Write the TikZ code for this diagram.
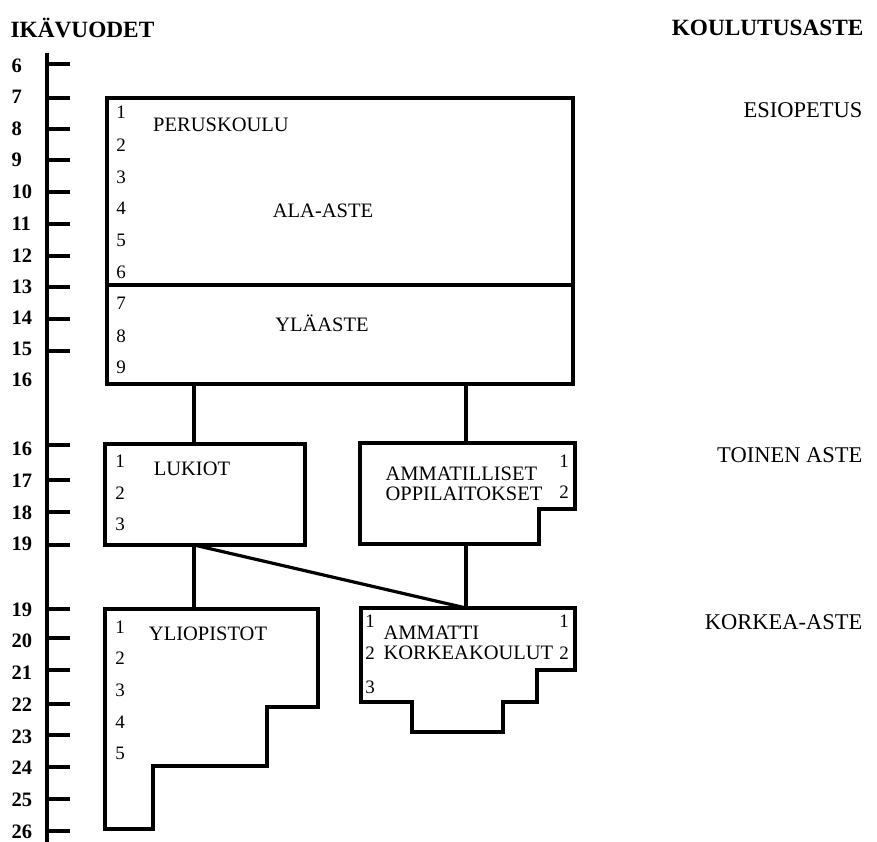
\documentclass[tikz,border=0pt]{standalone}
\usepackage{fontspec}
\setmainfont{Liberation Serif}
\begin{document}
\begin{tikzpicture}[x=1pt,y=-1pt,
  line width=3.2pt, line join=miter,
  outline/.style={draw, line width=3.2pt},
  conn/.style={draw, line width=3.2pt},
  lbl/.style={font=\fontsize{20.5}{21}\selectfont, inner sep=0pt},
  num/.style={font=\fontsize{19}{19}\selectfont, inner sep=0pt},
  age/.style={font=\bfseries\fontsize{20.5}{20.5}\selectfont, inner sep=0pt, anchor=west},
  hdr/.style={font=\bfseries\fontsize{23.3}{23.3}\selectfont, inner sep=0pt},
  lvl/.style={font=\fontsize{22.5}{22.5}\selectfont, inner sep=0pt, anchor=east}]
\useasboundingbox (0,0) rectangle (877,842);

% headers
\node[hdr, anchor=west] (hIka) at (9,28) {IKÄVUODET};
\node[hdr, anchor=east] (hKoul) at (865,28) {KOULUTUSASTE};

% age axis
\coordinate (axTop) at (47,53);
\coordinate (axBot) at (47,842);
\draw[line width=3.6pt] (axTop) -- (axBot);
\foreach \a/\y in {6/64,7/98,8/129,9/160,10/192,11/224,12/256,13/287,14/319,15/351,
                   16/445,17/480,18/512,19/545,19/609,20/638,21/670,22/704,23/735,24/767,25/799,26/831}{
  \draw (47,\y) -- (70,\y);
}
\foreach \a/\y in {6/66,7/97,8/129,9/160,10/192,11/224,12/256,13/287,14/318,15/349,16/380,
                   16/449,17/481,18/513,19/544,19/610,20/641,21/673,22/705,23/737,24/768,25/800,26/832}{
  \node[age] at (10,\y) {\a};
}

% levels
\node[lvl] (lEsi) at (864,110) {ESIOPETUS};
\node[lvl] (lToi) at (864,455) {TOINEN ASTE};
\node[lvl] (lKor) at (864,622) {KORKEA-ASTE};

% Peruskoulu
\draw[outline] (107,98) rectangle (573,384);
\draw[outline] (107,285) -- (573,285);
\coordinate (pkL) at (194,384);
\coordinate (pkR) at (466,384);
\node[lbl] (pk) at (221,125) {PERUSKOULU};
\node[lbl] (ala) at (323,211) {ALA-ASTE};
\node[lbl] (yla) at (322,323) {YLÄASTE};
\foreach \n/\y in {1/112,2/145,3/177,4/208,5/240,6/272,7/303,8/336,9/367}{
  \node[num] at (121,\y) {\n};
}

% Lukiot
\draw[outline] (105,444) rectangle (305,545);
\coordinate (luT) at (194,444);
\coordinate (luB) at (194,545);
\node[lbl] (lu) at (192,469) {LUKIOT};
\foreach \n/\y in {1/461,2/493,3/524}{
  \node[num] at (120,\y) {\n};
}

% Ammatilliset oppilaitokset
\draw[outline] (360,443) -- (575,443) -- (575,509) -- (539,509) -- (539,544) -- (360,544) -- cycle;
\coordinate (amT) at (466,443);
\coordinate (amB) at (466,544);
\node[lbl, align=left, anchor=west] (am) at (384,484) {AMMATILLISET\\[-1pt]OPPILAITOKSET};
\node[num] at (564,461) {1};
\node[num] at (564,492) {2};

% Ammattikorkeakoulut
\draw[outline] (361,608) -- (575,608) -- (575,670) -- (537,670) -- (537,702) -- (503,702)
  -- (503,732) -- (412,732) -- (412,702) -- (361,702) -- cycle;
\coordinate (akT) at (466,608);
\node[lbl, align=left, anchor=west] (ak) at (382,643) {AMMATTI\\[-1pt]KORKEAKOULUT};
\node[num] at (370,621) {1};
\node[num] at (370,653) {2};
\node[num] at (370,687) {3};
\node[num] at (564,621) {1};
\node[num] at (564,653) {2};

% Yliopistot
\draw[outline] (105,609) -- (318,609) -- (318,707) -- (267,707) -- (267,766) -- (153,766)
  -- (153,829) -- (105,829) -- cycle;
\coordinate (ylT) at (194,609);
\node[lbl] (yl) at (208,634) {YLIOPISTOT};
\foreach \n/\y in {1/627,2/658,3/690,4/722,5/753}{
  \node[num] at (120,\y) {\n};
}

% connectors
\draw[conn] (pkL) -- (luT);
\draw[conn] (pkR) -- (amT);
\draw[conn] (luB) -- (ylT);
\draw[conn] (luB) -- (akT);
\draw[conn] (amB) -- (akT);
\end{tikzpicture}
\end{document}
